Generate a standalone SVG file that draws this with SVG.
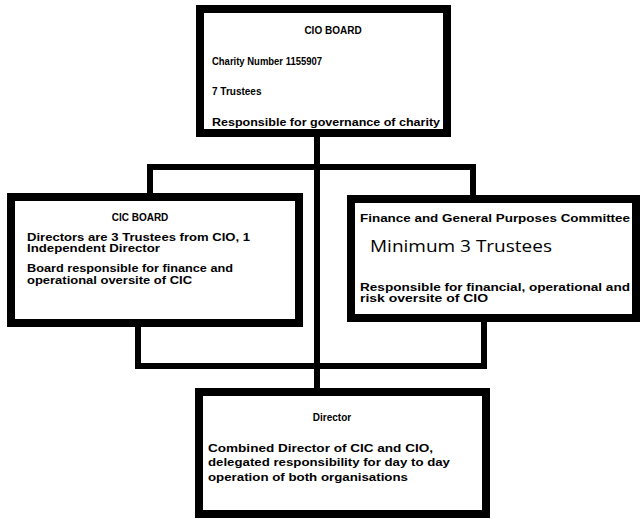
<svg xmlns="http://www.w3.org/2000/svg" width="642" height="519" viewBox="0 0 642 519">
<style>
.box{fill:#fff;stroke:#000;stroke-width:8}
.conn{fill:none;stroke:#000;stroke-width:6}
.t{font-family:"Liberation Sans",Arial,sans-serif;font-weight:bold;font-size:10px;fill:#000}
.m{text-anchor:middle}
.big{font-family:"Open Sans","Liberation Sans",sans-serif;font-size:17px;fill:#000}
</style>
<rect x="0" y="0" width="642" height="519" fill="#fff"/>
<g id="connectors">
<line class="conn" x1="317" y1="137" x2="317" y2="389"/>
<path class="conn" d="M150,196 V167 H473 V196"/>
<path class="conn" d="M138,326 V366 H484 V321"/>
</g>
<g id="cio-board">
<rect class="box" x="200" y="9" width="247" height="124"/>
<text class="t m" x="333" y="34">CIO BOARD</text>
<text class="t" x="212" y="65" textLength="110" lengthAdjust="spacingAndGlyphs">Charity Number 1155907</text>
<text class="t" x="212" y="95">7 Trustees</text>
<text class="t" x="212" y="126" textLength="228" lengthAdjust="spacingAndGlyphs">Responsible for governance of charity</text>
</g>
<g id="cic-board">
<rect class="box" x="11" y="197" width="288" height="126"/>
<text class="t m" x="140" y="221">CIC BOARD</text>
<text class="t" x="27" y="241" textLength="223" lengthAdjust="spacingAndGlyphs">Directors are 3 Trustees from CIO, 1</text>
<text class="t" x="27" y="252" textLength="133" lengthAdjust="spacingAndGlyphs">Independent Director</text>
<text class="t" x="27" y="272" textLength="206" lengthAdjust="spacingAndGlyphs">Board responsible for finance and</text>
<text class="t" x="27" y="284" textLength="165" lengthAdjust="spacingAndGlyphs">operational oversite of CIC</text>
</g>
<g id="fgp-committee">
<rect class="box" x="351" y="199" width="285" height="119"/>
<text class="t" x="360" y="222" textLength="270" lengthAdjust="spacingAndGlyphs">Finance and General Purposes Committee</text>
<text class="big" x="370" y="252" textLength="182" lengthAdjust="spacingAndGlyphs">Minimum 3 Trustees</text>
<text class="t" x="360" y="291" textLength="270" lengthAdjust="spacingAndGlyphs">Responsible for financial, operational and</text>
<text class="t" x="360" y="302" textLength="128" lengthAdjust="spacingAndGlyphs">risk oversite of CIO</text>
</g>
<g id="director">
<rect class="box" x="199" y="392" width="287" height="122"/>
<text class="t m" x="332" y="421">Director</text>
<text class="t" x="208" y="452" textLength="225" lengthAdjust="spacingAndGlyphs">Combined Director of CIC and CIO,</text>
<text class="t" x="208" y="466" textLength="242" lengthAdjust="spacingAndGlyphs">delegated responsibility for day to day</text>
<text class="t" x="208" y="481" textLength="200" lengthAdjust="spacingAndGlyphs">operation of both organisations</text>
</g>
</svg>
